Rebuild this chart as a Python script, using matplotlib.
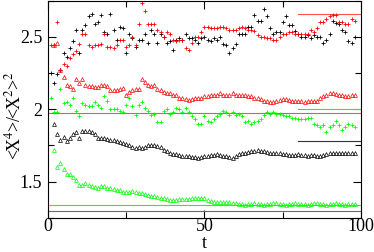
import numpy as np
import matplotlib
matplotlib.use("Agg")
import matplotlib.pyplot as plt
from matplotlib.ticker import MultipleLocator, FixedLocator, FixedFormatter

plt.rcParams['font.family'] = ['Liberation Serif', 'DejaVu Serif']
plt.rcParams['mathtext.fontset'] = 'stix'

# time steps
t_plus = list(range(1, 99))
t_tri = list(range(2, 99))

black_plus = [2.25, 2.18, 2.24, 2.27, 2.39, 2.36, 2.42, 2.47, 2.55, 2.39,
              2.55, 2.58, 2.64, 2.655, 2.59, 2.60, 2.65, 2.53, 2.52, 2.655,
              2.55, 2.48, 2.57, 2.56, 2.39, 2.52, 2.49, 2.43, 2.48, 2.48,
              2.52, 2.455, 2.55, 2.52, 2.455, 2.52, 2.50, 2.455, 2.47, 2.41,
              2.48, 2.49, 2.48, 2.52, 2.49, 2.49, 2.48, 2.46, 2.49, 2.50,
              2.48, 2.47, 2.49, 2.48, 2.50, 2.45, 2.44, 2.39, 2.42, 2.45,
              2.52, 2.52, 2.52, 2.57, 2.57, 2.65, 2.61, 2.61, 2.69, 2.64,
              2.56, 2.52, 2.53, 2.53, 2.60, 2.64, 2.58, 2.58, 2.54, 2.52,
              2.50, 2.50, 2.51, 2.49, 2.51, 2.50, 2.50, 2.46, 2.48, 2.52,
              2.61, 2.595, 2.59, 2.55, 2.535, 2.47, 2.46, 2.50]

red_plus = [2.44, 2.44, 2.60, 2.27, 2.31, 2.30, 2.35, 2.38, 2.40, 2.45,
            2.52, 2.52, 2.44, 2.43, 2.44, 2.44, 2.45, 2.52, 2.43, 2.43,
            2.42, 2.44, 2.48, 2.48, 2.43, 2.44, 2.50, 2.44, 2.59, 2.73,
            2.68, 2.59, 2.59, 2.59, 2.55, 2.53, 2.50, 2.53, 2.52, 2.48,
            2.47, 2.48, 2.48, 2.42, 2.41, 2.46, 2.50, 2.50, 2.53, 2.57,
            2.57, 2.56, 2.56, 2.56, 2.57, 2.57, 2.56, 2.55, 2.55, 2.55,
            2.56, 2.57, 2.56, 2.55, 2.55, 2.54, 2.51, 2.50, 2.50, 2.49,
            2.49, 2.48, 2.48, 2.50, 2.52, 2.52, 2.53, 2.53, 2.52, 2.52,
            2.52, 2.52, 2.52, 2.55, 2.53, 2.56, 2.60, 2.60, 2.625, 2.64,
            2.65, 2.65, 2.60, 2.60, 2.59, 2.59, 2.625, 2.61]

red_tri = [2.44, 2.46, 2.27, 2.22, 2.17, 2.16, 2.14, 2.21, 2.18,
           2.21, 2.17, 2.16, 2.16, 2.15, 2.15, 2.17, 2.17, 2.16, 2.13,
           2.13, 2.13, 2.14, 2.145, 2.10, 2.12, 2.13, 2.14, 2.14, 2.21,
           2.19, 2.17, 2.16, 2.165, 2.14, 2.13, 2.12, 2.115, 2.11, 2.10,
           2.10, 2.08, 2.08, 2.07, 2.065, 2.07, 2.075, 2.08, 2.08, 2.09,
           2.09, 2.10, 2.10, 2.10, 2.11, 2.10, 2.10, 2.10, 2.11, 2.10,
           2.10, 2.10, 2.095, 2.09, 2.09, 2.08, 2.08, 2.07, 2.06, 2.055,
           2.05, 2.05, 2.055, 2.065, 2.07, 2.07, 2.065, 2.06, 2.055, 2.055,
           2.055, 2.05, 2.055, 2.055, 2.06, 2.06, 2.075, 2.09, 2.10, 2.11,
           2.11, 2.105, 2.10, 2.095, 2.09, 2.09, 2.095, 2.10]

green_plus = [2.075, 1.98, 1.98, 2.14, 2.04, 2.05, 2.03, 2.08, 1.99, 1.95,
              2.04, 2.03, 2.02, 2.02, 2.05, 2.03, 2.01, 2.09, 2.06, 2.00,
              2.00, 2.00, 1.99, 1.98, 2.03, 2.08, 2.02, 1.96, 2.03, 2.05,
              2.01, 1.99, 1.96, 1.965, 1.91, 1.91, 1.99, 2.00, 1.97, 1.98,
              2.01, 2.00, 1.98, 2.01, 1.98, 1.95, 1.93, 1.90, 1.90, 1.95,
              1.92, 1.91, 1.93, 1.95, 1.97, 1.99, 1.98, 1.96, 1.98, 1.96,
              1.97, 1.95, 1.91, 1.92, 1.90, 1.91, 1.92, 1.93, 1.96, 1.98,
              1.97, 1.98, 1.97, 1.97, 1.96, 1.95, 1.95, 1.94, 1.94, 1.93,
              1.93, 1.93, 1.94, 1.94, 1.90, 1.89, 1.88, 1.89, 1.84, 1.88,
              1.89, 1.92, 1.89, 1.86, 1.88, 1.90, 1.89, 1.88]

black_tri = [1.90, 1.83, 1.79, 1.81, 1.78, 1.80, 1.83, 1.845, 1.80,
             1.85, 1.85, 1.85, 1.845, 1.83, 1.80, 1.80, 1.80, 1.795, 1.79,
             1.785, 1.78, 1.775, 1.77, 1.76, 1.75, 1.74, 1.735, 1.74, 1.735,
             1.74, 1.75, 1.75, 1.755, 1.745, 1.74, 1.72, 1.71, 1.70, 1.69,
             1.69, 1.685, 1.68, 1.675, 1.675, 1.67, 1.67, 1.665, 1.67, 1.675,
             1.68, 1.685, 1.685, 1.69, 1.685, 1.68, 1.675, 1.67, 1.665, 1.675,
             1.69, 1.695, 1.70, 1.705, 1.71, 1.715, 1.72, 1.715, 1.71, 1.705,
             1.70, 1.70, 1.70, 1.695, 1.69, 1.69, 1.685, 1.685, 1.685, 1.69,
             1.685, 1.685, 1.68, 1.685, 1.685, 1.68, 1.68, 1.685, 1.69, 1.695,
             1.70, 1.70, 1.70, 1.695, 1.70, 1.70, 1.695, 1.70]

green_tri = [1.72, 1.60, 1.63, 1.59, 1.555, 1.55, 1.53, 1.51, 1.48,
             1.48, 1.49, 1.475, 1.47, 1.465, 1.46, 1.47, 1.47, 1.46, 1.455,
             1.45, 1.445, 1.44, 1.43, 1.43, 1.43, 1.435, 1.43, 1.425, 1.42,
             1.415, 1.41, 1.405, 1.40, 1.395, 1.39, 1.385, 1.38, 1.375, 1.375,
             1.375, 1.38, 1.38, 1.38, 1.38, 1.385, 1.39, 1.39, 1.39, 1.385,
             1.375, 1.365, 1.36, 1.36, 1.36, 1.36, 1.36, 1.36, 1.355, 1.35,
             1.345, 1.345, 1.34, 1.345, 1.345, 1.35, 1.345, 1.345, 1.34, 1.345,
             1.345, 1.35, 1.35, 1.345, 1.345, 1.34, 1.345, 1.345, 1.35, 1.345,
             1.345, 1.345, 1.34, 1.345, 1.35, 1.35, 1.345, 1.345, 1.34, 1.345,
             1.345, 1.35, 1.345, 1.345, 1.34, 1.345, 1.345, 1.345]

# reference levels: (value, t_start, t_end, colour)
ref_levels = [(1.975, 0, 100, '#ff5050'), (1.342, 0, 100, '#40e040'), (1.30, 0, 100, 'dimgray'),
              (2.66, 80, 100, '#ff5050'), (2.00, 80, 100, '#40e040'), (1.78, 80, 100, '#333333')]

fig = plt.figure(figsize=(3.74, 2.52), dpi=100)
ax = fig.add_axes([0.128, 0.135, 0.837, 0.863])

for val, t0, t1, c in ref_levels:
    ax.plot([t0, t1], [val, val], color=c, lw=0.8)

ax.plot(t_plus, black_plus, '+', color='black', ms=3.4, mew=0.6, ls='none')
ax.plot(t_plus, red_plus, '+', color='red', ms=3.4, mew=0.6, ls='none')
ax.plot(t_tri, red_tri, '^', mfc='none', mec='red', ms=2.8, mew=0.5, ls='none')
ax.plot(t_plus, green_plus, '+', color='lime', ms=3.4, mew=0.6, ls='none')
ax.plot(t_tri, black_tri, '^', mfc='none', mec='black', ms=2.8, mew=0.5, ls='none')
ax.plot(t_tri, green_tri, '^', mfc='none', mec='lime', ms=2.8, mew=0.5, ls='none')

ax.set_xlim(0, 100)
ax.set_ylim(1.25, 2.75)
ax.xaxis.set_major_locator(FixedLocator([0, 50, 100]))
ax.xaxis.set_minor_locator(MultipleLocator(25))
ax.yaxis.set_major_locator(FixedLocator([1.5, 2.0, 2.5]))
ax.yaxis.set_major_formatter(FixedFormatter(['1.5', '2', '2.5']))
ax.yaxis.set_minor_locator(MultipleLocator(0.25))
ax.tick_params(which='both', direction='in', top=True, right=True, labelsize=13)
ax.tick_params(axis='x', pad=0)
ax.tick_params(axis='y', pad=4)
ax.tick_params(which='major', length=6, width=0.8)
ax.tick_params(which='minor', length=4, width=0.8)
for s in ax.spines.values():
    s.set_linewidth(0.8)

ax.set_xlabel('t', fontsize=13, va='baseline')
ax.xaxis.set_label_coords(0.5, -0.137)
ax.set_ylabel('<X$^4$>/<X$^2$>$^2$', fontsize=13)
ax.yaxis.set_label_coords(-0.075, 0.47)

fig.savefig('out.png', dpi=100)
